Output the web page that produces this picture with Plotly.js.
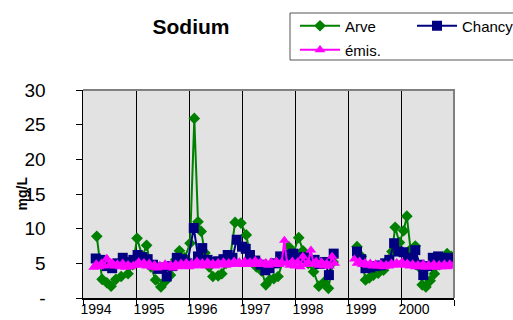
<!DOCTYPE html>
<html><head><meta charset="utf-8">
<script src="https://cdn.plot.ly/plotly-3.0.1.min.js"></script>
<style>html,body{margin:0;padding:0;background:#fff;}#chart{width:513px;height:320px;}</style>
</head><body><div id="chart"></div>
<script>
// ---- data (decimal year, mg/L) ----
const arveX = [1994.26,1994.36,1994.45,1994.53,1994.62,1994.72,1994.85,1994.94,
  1995.02,1995.12,1995.20,1995.28,1995.37,1995.47,1995.55,1995.65,1995.75,1995.82,1995.92,
  1996.02,1996.10,1996.17,1996.23,1996.30,1996.38,1996.45,1996.55,1996.62,1996.70,1996.78,1996.87,1996.98,
  1997.08,1997.17,1997.27,1997.37,1997.45,1997.52,1997.60,1997.68,1997.78,1997.88,1997.97,
  1998.07,1998.15,1998.25,1998.35,1998.45,1998.55,1998.63,1998.72,
  1998.95,
  1999.17,1999.25,1999.33,1999.40,1999.48,1999.57,1999.67,1999.76,1999.83,1999.89,1999.97,
  2000.05,2000.11,2000.18,2000.27,2000.34,2000.40,2000.47,2000.55,2000.63,2000.72,2000.80,2000.87,2000.95];
const arveY = [8.9,2.7,2.2,1.7,2.7,3.1,3.5,4.8,
  8.6,6.0,7.6,4.5,2.6,1.6,2.4,3.3,5.5,6.8,5.8,
  7.9,25.9,11.0,9.6,6.5,4.5,3.1,3.2,3.5,5.0,6.0,10.9,10.8,
  9.1,5.5,4.5,3.9,1.9,2.6,2.8,3.1,5.5,7.4,6.5,
  8.7,6.8,5.0,3.8,1.7,2.3,1.4,5.2,
  null,
  7.4,6.0,2.6,2.9,3.3,3.6,4.0,5.5,6.7,10.2,8.0,
  9.7,11.8,7.0,7.5,4.5,1.9,1.6,2.5,3.5,4.8,5.5,6.4,6.0];

const chancyX = [1994.24,1994.33,1994.45,1994.55,1994.65,1994.75,1994.85,1994.95,
  1995.03,1995.12,1995.22,1995.32,1995.42,1995.50,1995.58,1995.68,1995.77,1995.87,1995.97,
  1996.09,1996.17,1996.25,1996.35,1996.45,1996.55,1996.65,1996.73,1996.82,1996.90,
  1997.00,1997.07,1997.15,1997.25,1997.35,1997.44,1997.52,1997.62,1997.72,1997.80,1997.88,1997.97,
  1998.07,1998.17,1998.27,1998.37,1998.47,1998.57,1998.64,1998.73,
  1998.95,
  1999.17,1999.25,1999.33,1999.42,1999.52,1999.62,1999.70,1999.78,1999.87,1999.95,
  2000.05,2000.13,2000.22,2000.27,2000.35,2000.42,2000.50,2000.60,2000.70,2000.80,2000.88,2000.95];
const chancyY = [5.7,5.5,4.6,4.3,5.0,5.8,5.2,5.5,
  6.2,5.9,5.6,4.8,4.2,4.4,3.1,4.6,5.8,5.6,5.0,
  10.1,6.0,7.2,5.5,5.2,5.3,5.6,6.2,5.8,8.4,
  7.4,7.1,6.2,5.4,4.8,4.0,4.3,5.0,6.0,5.7,6.2,6.4,
  5.8,5.9,5.3,5.5,4.9,5.2,3.3,6.4,
  null,
  6.7,5.6,4.3,4.4,4.6,4.7,5.0,5.5,7.9,6.7,
  6.6,5.4,5.8,6.9,4.8,3.3,4.6,5.8,6.0,5.5,5.8,5.6];

const emisX = [1994.20,1994.25,1994.30,1994.35,1994.40,1994.45,1994.50,1994.55,1994.60,1994.65,1994.70,1994.75,1994.80,1994.85,1994.90,1994.95,
  1995.00,1995.05,1995.10,1995.15,1995.20,1995.25,1995.30,1995.35,1995.40,1995.45,1995.50,1995.55,1995.60,1995.65,1995.70,1995.75,1995.80,1995.85,1995.90,1995.95,
  1996.00,1996.05,1996.10,1996.15,1996.20,1996.25,1996.30,1996.35,1996.40,1996.45,1996.50,1996.55,1996.60,1996.65,1996.70,1996.75,1996.80,1996.85,1996.90,1996.95,
  1997.00,1997.05,1997.10,1997.15,1997.20,1997.25,1997.30,1997.35,1997.40,1997.45,1997.50,1997.55,1997.60,1997.65,1997.70,1997.75,1997.80,1997.85,1997.90,1997.95,
  1998.00,1998.05,1998.10,1998.15,1998.20,1998.25,1998.30,1998.35,1998.40,1998.45,1998.50,1998.55,1998.60,1998.65,1998.70,1998.75,
  1998.95,
  1999.12,1999.17,1999.22,1999.27,1999.32,1999.37,1999.42,1999.47,1999.52,1999.57,1999.62,1999.67,1999.72,1999.77,1999.82,1999.87,1999.92,1999.97,
  2000.02,2000.07,2000.12,2000.17,2000.22,2000.27,2000.32,2000.37,2000.42,2000.47,2000.52,2000.57,2000.62,2000.67,2000.72,2000.77,2000.82,2000.87,2000.92,2000.97];
const emisY = [4.4,4.9,4.5,5.0,4.6,5.7,4.7,5.1,4.6,4.9,4.5,5.0,4.4,4.8,4.5,4.7,
  4.8,5.2,4.7,5.1,4.6,5.0,4.4,4.8,4.3,4.7,4.4,4.9,4.5,4.8,4.3,4.9,4.5,5.0,4.6,5.1,
  4.5,5.0,4.6,5.3,4.7,5.1,4.6,5.2,4.7,5.0,4.6,5.1,4.8,5.2,4.7,5.1,4.8,5.3,4.9,5.2,
  4.8,5.3,4.9,5.2,4.8,5.4,4.9,5.2,4.8,5.1,4.7,5.2,4.9,5.3,4.8,5.2,8.3,5.0,4.7,5.3,
  4.6,5.2,4.5,6.0,4.8,5.2,6.9,4.9,5.3,4.7,5.2,4.6,5.0,4.6,6.0,5.0,
  null,
  5.6,5.0,5.3,4.8,5.1,4.7,5.0,4.6,4.9,4.6,4.9,4.5,4.8,4.6,5.0,4.7,5.1,4.8,
  5.2,4.7,5.0,4.6,4.9,4.5,4.8,4.5,4.9,4.4,4.8,4.5,4.9,4.4,4.8,4.5,4.9,4.5,4.9,4.6];

const seriesNames = ['Arve', 'Chancy', 'émis.'];
const yTickVals = [0,5,10,15,20,25,30];
const yTickText = ['-','5','10','15','20','25','30'];
const xTickVals = [1994,1995,1996,1997,1998,1999,2000,2001];
const xTickText = ['1994','1995','1996','1997','1998','1999','2000',''];

// ---- layout helpers (pixel -> paper) ----
const W = 513, H = 320, M = {l:83, r:59, t:90, b:22};
const PW = W - M.l - M.r, PH = H - M.t - M.b;
const px = x => (x - M.l) / PW;
const py = y => (H - M.b - y) / PH;
const FONT = 'Arial, "Liberation Sans", sans-serif';

const traces = [
  {x: arveX, y: arveY, name: seriesNames[0], type: 'scatter', mode: 'lines+markers',
   line: {color: '#008000', width: 2}, marker: {symbol: 'diamond', size: 9, color: '#008000'}, legend: 'legend'},
  {x: chancyX, y: chancyY, name: seriesNames[1], type: 'scatter', mode: 'lines+markers',
   line: {color: '#000080', width: 2}, marker: {symbol: 'square', size: 10, color: '#000080'}, legend: 'legend'},
  {x: emisX, y: emisY, name: seriesNames[2], type: 'scatter', mode: 'lines+markers',
   line: {color: '#FF00FF', width: 2}, marker: {symbol: 'triangle-up', size: 9.5, color: '#FF00FF'}, legend: 'legend2'}
];

const legendCommon = {orientation: 'h', xanchor: 'left', yanchor: 'middle',
  font: {family: FONT, size: 15, color: '#000'}, bgcolor: 'rgba(0,0,0,0)', borderwidth: 0,
  itemwidth: 40, entrywidth: 62, entrywidthmode: 'pixels', traceorder: 'normal'};

const layout = {
  width: W, height: H,
  margin: {l: M.l, r: M.r, t: M.t, b: M.b, pad: 0, autoexpand: false},
  paper_bgcolor: '#fff', plot_bgcolor: '#E2E2E2',
  font: {family: FONT, color: '#000'},
  title: {text: '<b>Sodium</b>', font: {family: FONT, size: 21, color: '#000'},
          xref: 'container', yref: 'container', x: 191 / W, xanchor: 'center', y: 1 - 27 / H, yanchor: 'middle'},
  showlegend: true,
  legend: Object.assign({}, legendCommon, {x: px(295), y: py(26)}),
  legend2: Object.assign({}, legendCommon, {x: px(295), y: py(50)}),
  xaxis: {range: [1994, 2001], tickvals: xTickVals, ticktext: xTickText,
    showgrid: true, gridcolor: '#000', gridwidth: 1,
    showline: true, linecolor: '#000', linewidth: 1.5,
    ticks: 'outside', ticklen: 6, tickcolor: '#000', tickwidth: 1,
    tickfont: {family: FONT, size: 14, color: '#000'}, ticklabelshift: 13, ticklabelstandoff: -8,
    zeroline: false, fixedrange: true},
  yaxis: {range: [0, 30], tickvals: yTickVals, ticktext: yTickText,
    showgrid: false, showline: true, linecolor: '#000', linewidth: 1.5,
    ticks: 'outside', ticklen: 6, tickcolor: '#000', tickwidth: 1,
    tickfont: {family: FONT, size: 19, color: '#000'}, ticklabelstandoff: 26, zeroline: false,
    fixedrange: true},
  annotations: [
    {text: '<b>mg/L</b>', xref: 'paper', yref: 'paper', x: px(21.5), y: py(194), xanchor: 'center', yanchor: 'middle',
     textangle: -90, showarrow: false, font: {family: FONT, size: 14, color: '#000'}}
  ],
  shapes: [
    {type: 'path', xref: 'paper', yref: 'paper', path: 'M0,1 L1,1 L1,0', line: {color: '#808080', width: 2}, layer: 'above'},
    {type: 'rect', xref: 'paper', yref: 'paper', x0: px(290), x1: px(540), y0: py(60), y1: py(13),
     line: {color: '#555', width: 1}, fillcolor: 'rgba(0,0,0,0)', layer: 'above'}
  ]
};

Plotly.newPlot('chart', traces, layout, {displayModeBar: false, staticPlot: true});
</script>
</body></html>
